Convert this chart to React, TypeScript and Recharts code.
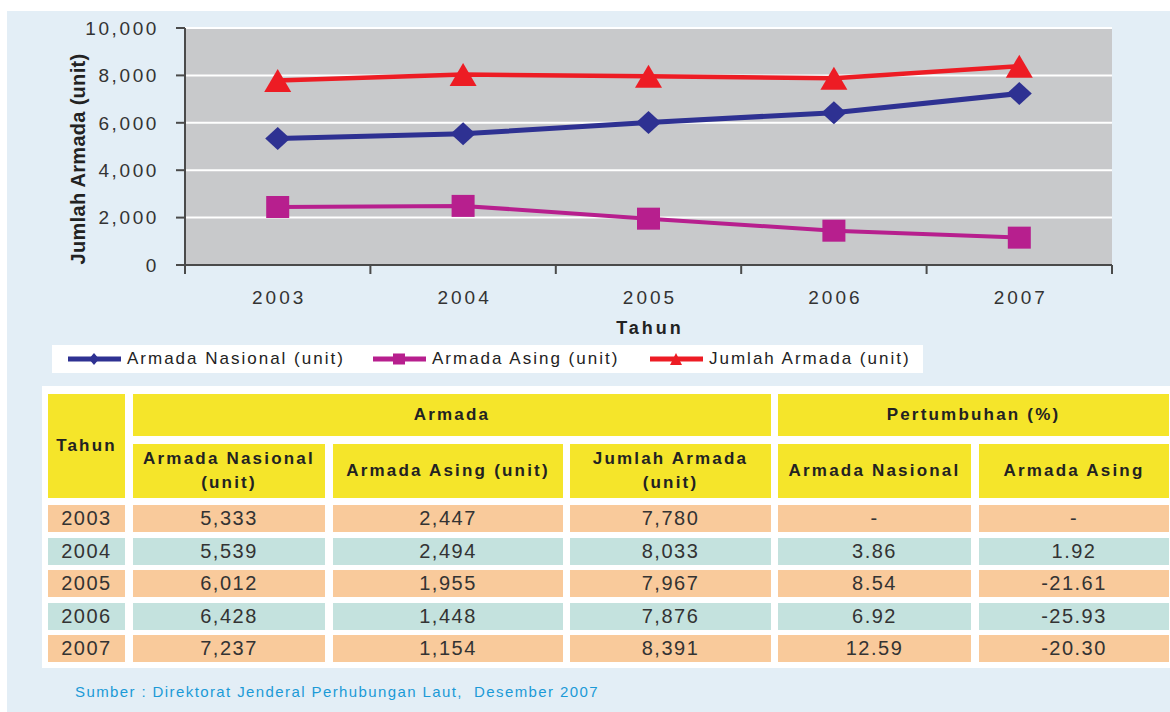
import { LineChart, Line, XAxis, YAxis, CartesianGrid, Label } from 'recharts';

const years = [2003, 2004, 2005, 2006, 2007];
const nasional = [5333, 5539, 6012, 6428, 7237];
const asing = [2447, 2494, 1955, 1448, 1154];
const jumlah = [7780, 8033, 7967, 7876, 8391];
const growthNasional = ['-', '3.86', '8.54', '6.92', '12.59'];
const growthAsing = ['-', '1.92', '-21.61', '-25.93', '-20.30'];
const yTicks = [0, 2000, 4000, 6000, 8000, 10000];
const xTicks = [2002.5, 2003, 2003.5, 2004, 2004.5, 2005, 2005.5, 2006, 2006.5, 2007, 2007.5];

const data = years.map((year, i) => ({
  year,
  nasional: nasional[i],
  asing: asing[i],
  jumlah: jumlah[i],
}));

const BLUE = '#2e3192';
const MAGENTA = '#b71f8e';
const RED = '#ed1c24';
const FONT = '"Liberation Sans", Arial, sans-serif';

function Diamond(props: any) {
  const { cx, cy, w = 12.5, h = 11.5, fill } = props;
  if (cx == null || cy == null) return null;
  return <polygon points={`${cx},${cy - h} ${cx + w},${cy} ${cx},${cy + h} ${cx - w},${cy}`} fill={fill} />;
}

function Square(props: any) {
  const { cx, cy, s = 11.5, fill } = props;
  if (cx == null || cy == null) return null;
  return <rect x={cx - s} y={cy - s + 0.5} width={s * 2} height={s * 2 - 1} fill={fill} />;
}

function Triangle(props: any) {
  const { cx, cy, w = 13.5, h = 11.5, fill } = props;
  if (cx == null || cy == null) return null;
  return <polygon points={`${cx},${cy - h} ${cx + w},${cy + h} ${cx - w},${cy + h}`} fill={fill} />;
}

function XTick(props: any) {
  const { x, y, payload } = props;
  const v = payload.value as number;
  if (!Number.isInteger(v)) {
    return <line x1={x} y1={y} x2={x} y2={y + 9} stroke="#4a4a4a" strokeWidth={2} />;
  }
  return (
    <text x={x + 1.5} y={y + 39} textAnchor="middle" fill="#333" fontSize={19} letterSpacing={3} fontFamily={FONT}>
      {v}
    </text>
  );
}

const legendItems = [
  { name: 'Armada Nasional (unit)', color: BLUE, shape: 'diamond', left: 68 },
  { name: 'Armada Asing (unit)', color: MAGENTA, shape: 'square', left: 373 },
  { name: 'Jumlah Armada (unit)', color: RED, shape: 'triangle', left: 650 },
];

const colLefts = [48, 133, 333, 570, 778, 979];
const colWidths = [77, 192, 230, 201, 193, 190];

const YELLOW = '#f5e52a';
const PEACH = '#f9ca9b';
const TEAL = '#c4e2de';

function Cell({ left, top, width, height, bg, children, style }: any) {
  return (
    <div
      style={{
        position: 'absolute',
        left,
        top,
        width,
        height,
        background: bg,
        display: 'flex',
        alignItems: 'center',
        justifyContent: 'center',
        textAlign: 'center',
        ...style,
      }}
    >
      {children}
    </div>
  );
}

export default function App() {
  const headStyle = { fontFamily: FONT, fontWeight: 700, fontSize: 17, letterSpacing: 2.2, color: '#222', lineHeight: '24px' };
  const cellStyle = { fontFamily: FONT, fontSize: 20, letterSpacing: 1.5, color: '#333' };

  return (
    <div style={{ position: 'absolute', left: 0, top: 0, width: 1170, height: 712, background: '#fff', overflow: 'hidden' }}>
      <div style={{ position: 'absolute', left: 7, top: 11, width: 1163, height: 701, background: '#e3eef6' }} />

      <div style={{ position: 'absolute', left: 0, top: 0 }}>
        <LineChart width={1170} height={385} data={data} margin={{ top: 28, right: 58, left: 85, bottom: 60 }}>
          <CartesianGrid vertical={false} fill="#c8c9cb" stroke="#ffffff" strokeWidth={2} />
          <XAxis
            dataKey="year"
            type="number"
            domain={[2002.5, 2007.5]}
            ticks={xTicks}
            interval={0}
            height={60}
            tickLine={false}
            tickSize={0}
            tickMargin={0}
            tick={<XTick />}
            stroke="#4a4a4a"
            strokeWidth={2}
          >
            <Label
              content={(p: any) => {
                const vb = p.viewBox;
                return (
                  <text x={vb.x + vb.width / 2 + 1.5} y={vb.y + 69} textAnchor="middle" fill="#222" fontSize={18} fontWeight={700} letterSpacing={3} fontFamily={FONT}>
                    Tahun
                  </text>
                );
              }}
            />
          </XAxis>
          <YAxis
            domain={[0, 10000]}
            ticks={yTicks}
            interval={0}
            width={100}
            tickSize={9}
            tickMargin={17}
            tickFormatter={(v: number) => v.toLocaleString('en-US')}
            tick={{ fill: '#333', fontSize: 19, letterSpacing: 2.6, fontFamily: FONT }}
            stroke="#4a4a4a"
            strokeWidth={2}
          >
            <Label
              content={(p: any) => {
                const vb = p.viewBox;
                const x = vb.x - 7;
                const y = 159;
                return (
                  <text x={x} y={y} transform={`rotate(-90 ${x} ${y})`} textAnchor="middle" dominantBaseline="central" fill="#222" fontSize={20} fontWeight={700} letterSpacing={0.3} fontFamily={FONT}>
                    Jumlah Armada (unit)
                  </text>
                );
              }}
            />
          </YAxis>
          <Line
            dataKey="jumlah"
            stroke={RED}
            strokeWidth={4.5}
            isAnimationActive={false}
            dot={(p: any) => <Triangle key={`j${p.index}`} cx={p.cx} cy={p.cy} fill={RED} />}
            activeDot={false}
          />
          <Line
            dataKey="nasional"
            stroke={BLUE}
            strokeWidth={5}
            isAnimationActive={false}
            dot={(p: any) => <Diamond key={`n${p.index}`} cx={p.cx} cy={p.cy} fill={BLUE} />}
            activeDot={false}
          />
          <Line
            dataKey="asing"
            stroke={MAGENTA}
            strokeWidth={4}
            isAnimationActive={false}
            dot={(p: any) => <Square key={`a${p.index}`} cx={p.cx} cy={p.cy} fill={MAGENTA} />}
            activeDot={false}
          />
        </LineChart>
      </div>

      {/* legend */}
      <div style={{ position: 'absolute', left: 52, top: 345, width: 871, height: 28, background: '#fff' }}>
        {legendItems.map((it) => (
          <div key={it.name} style={{ position: 'absolute', left: it.left - 52, top: 0, height: 28, display: 'flex', alignItems: 'center' }}>
            <svg width={53} height={14} style={{ display: 'block' }}>
              <line x1={0} y1={7} x2={53} y2={7} stroke={it.color} strokeWidth={5} />
              {it.shape === 'diamond' && <Diamond cx={26} cy={7} w={5} h={6} fill={it.color} />}
              {it.shape === 'square' && <Square cx={26} cy={7} s={6} fill={it.color} />}
              {it.shape === 'triangle' && <Triangle cx={26} cy={7} w={6} h={6} fill={it.color} />}
            </svg>
            <span style={{ marginLeft: 6, fontFamily: FONT, fontSize: 17, letterSpacing: 2, color: '#222' }}>{it.name}</span>
          </div>
        ))}
      </div>

      {/* table */}
      <div style={{ position: 'absolute', left: 42, top: 386, width: 1128, height: 282, background: '#fff' }} />
      <Cell left={colLefts[0]} top={394} width={colWidths[0]} height={104} bg={YELLOW} style={headStyle}>
        Tahun
      </Cell>
      <Cell left={colLefts[1]} top={394} width={638} height={42} bg={YELLOW} style={headStyle}>
        Armada
      </Cell>
      <Cell left={colLefts[4]} top={394} width={391} height={42} bg={YELLOW} style={headStyle}>
        Pertumbuhan (%)
      </Cell>
      {['Armada Nasional (unit)', 'Armada Asing (unit)', 'Jumlah Armada (unit)', 'Armada Nasional', 'Armada Asing'].map((h, i) => (
        <Cell key={h} left={colLefts[i + 1]} top={444} width={colWidths[i + 1]} height={54} bg={YELLOW} style={headStyle}>
          <span style={{ padding: '0 4px' }}>{h}</span>
        </Cell>
      ))}
      {years.map((y, r) => {
        const vals = [
          String(y),
          nasional[r].toLocaleString('en-US'),
          asing[r].toLocaleString('en-US'),
          jumlah[r].toLocaleString('en-US'),
          growthNasional[r],
          growthAsing[r],
        ];
        return vals.map((v, c) => (
          <Cell key={`${r}-${c}`} left={colLefts[c]} top={505 + r * 32.5} width={colWidths[c]} height={27} bg={r % 2 === 0 ? PEACH : TEAL} style={cellStyle}>
            {v}
          </Cell>
        ));
      })}

      <div style={{ position: 'absolute', left: 75, top: 683, fontFamily: FONT, fontSize: 15, letterSpacing: 1.4, color: '#1b9ad7', whiteSpace: 'pre' }}>
        Sumber : Direktorat Jenderal Perhubungan Laut,  Desember 2007
      </div>
    </div>
  );
}
